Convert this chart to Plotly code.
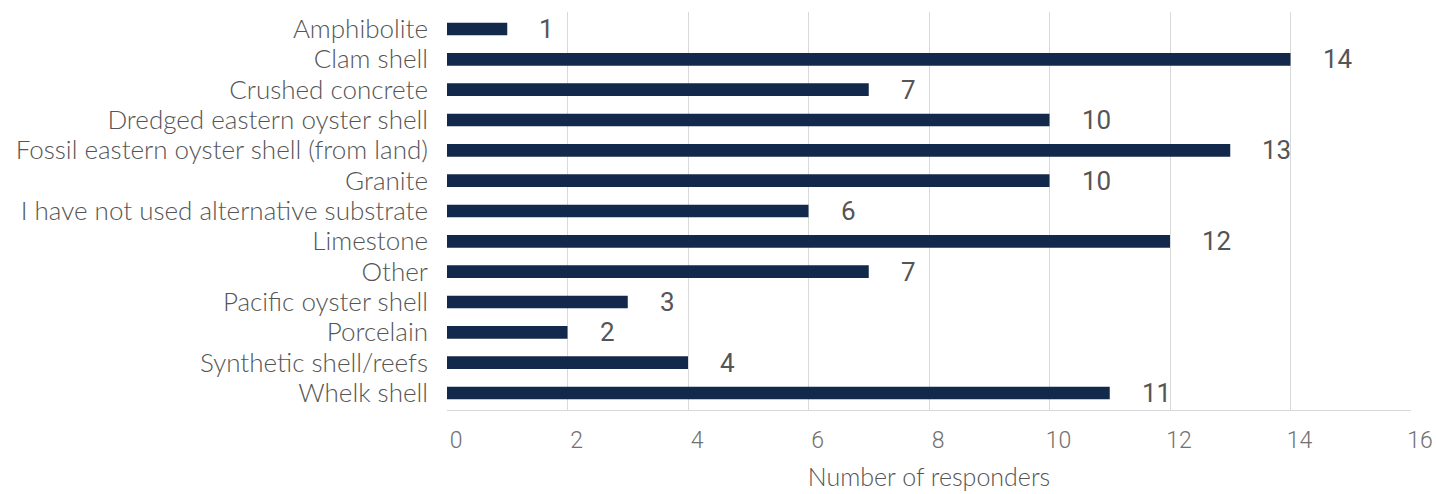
import plotly.graph_objects as go

categories = [
    "Amphibolite", "Clam shell", "Crushed concrete", "Dredged eastern oyster shell",
    "Fossil eastern oyster shell (from land)", "Granite",
    "I have not used alternative substrate", "Limestone", "Other",
    "Pacific oyster shell", "Porcelain", "Synthetic shell/reefs", "Whelk shell",
]
values = [1, 14, 7, 10, 13, 10, 6, 12, 7, 3, 2, 4, 11]
x_ticks = [0, 2, 4, 6, 8, 10, 12, 14, 16]

bar_color = "#13294B"
text_color = "#4a4a4a"
font_family = "Lato, 'Open Sans', sans-serif"
num_family = "Roboto, 'DejaVu Sans Condensed', sans-serif"

fig = go.Figure()
fig.add_trace(go.Bar(
    y=categories, x=values, orientation="h",
    marker=dict(color=bar_color, line=dict(width=0)),
    width=0.42, hoverinfo="x+y",
))

for c, v in zip(categories, values):
    fig.add_annotation(
        x=v, y=c, text=str(v), showarrow=False, xanchor="left", xshift=30,
        font=dict(family=num_family, size=26, color="#555555", weight=400),
    )

fig.update_layout(
    width=1436, height=494,
    margin=dict(l=447, r=25, t=12, b=84, autoexpand=False),
    paper_bgcolor="white", plot_bgcolor="white",
    showlegend=False,
    font=dict(family=font_family, color=text_color),
)
fig.update_xaxes(
    range=[0, 16], tickmode="array", tickvals=x_ticks, ticktext=[str(t) for t in x_ticks],
    automargin=False,
    showgrid=True, gridcolor="#d9d9d9", gridwidth=1,
    zeroline=False, showline=True, linecolor="#d9d9d9", linewidth=1,
    ticks="", tickfont=dict(family=num_family, size=23, color="#707070", weight=300),
    ticklabelshift=9, ticklabelstandoff=9,
    title=dict(text="Number of responders", font=dict(size=25, color="#555555", weight=300), standoff=15),
)
fig.update_yaxes(
    categoryorder="array", categoryarray=categories, autorange="reversed",
    tickmode="array", tickvals=categories, ticktext=categories,
    automargin=False,
    showgrid=False, zeroline=False, showline=False, ticks="",
    tickfont=dict(size=26, color="#555555", weight=300), ticklabelstandoff=18,
)

fig.write_html(
    "out.html",
    config={"displayModeBar": False},
    post_script="document.body.style.margin='0';document.body.style.overflow='hidden';",
)
